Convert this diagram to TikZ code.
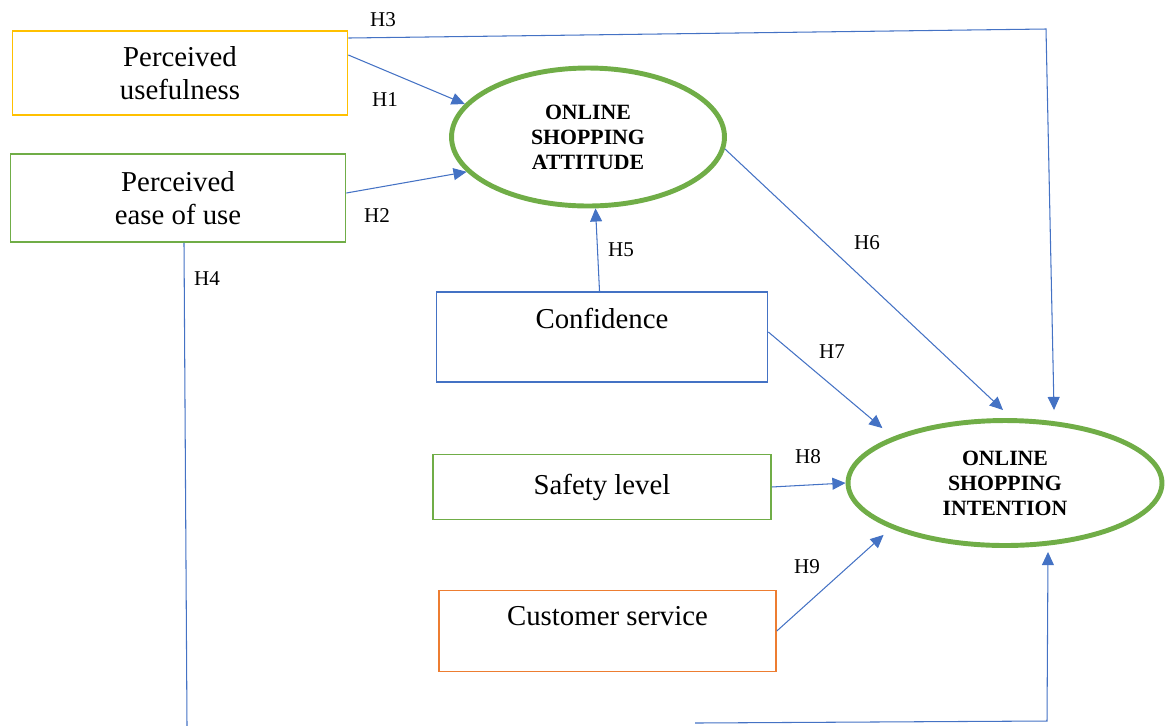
\documentclass[tikz,border=0pt]{standalone}
\usepackage{fontspec}
\setmainfont{Liberation Serif}
\usetikzlibrary{shapes.geometric,arrows.meta,positioning}
\definecolor{wordblue}{HTML}{4472C4}
\definecolor{wordgreen}{HTML}{70AD47}
\definecolor{wordyellow}{HTML}{FFC000}
\definecolor{wordorange}{HTML}{ED7D31}
\begin{document}
\begin{tikzpicture}[x=0.02cm,y=-0.02cm,
  box/.style={draw, rectangle, line width=1pt, minimum width=6.7cm, align=center, font=\fontsize{16.4}{18.7}\selectfont},
  construct/.style={draw=wordgreen, ellipse, line width=2.8pt, inner sep=0pt, align=center, font=\fontsize{12.4}{14.2}\selectfont\bfseries},
  hyp/.style={draw=wordblue, line width=0.6pt, -{Triangle[length=7.5pt,width=6.8pt]}},
  lbl/.style={font=\fontsize{12}{14}\selectfont}]
\useasboundingbox (0,0) rectangle (1165,725);

\node (pu)[box, draw=wordyellow, minimum height=1.68cm] at (180,73) {Perceived\\usefulness};
\node (pe)[box, draw=wordgreen, minimum height=1.76cm] at (178,198) {Perceived\\ease of use};
\node (att)[construct, minimum width=5.46cm, minimum height=2.76cm] at (588,137) {ONLINE\\SHOPPING\\ATTITUDE};
\node (conf)[box, draw=wordblue, minimum width=6.62cm, minimum height=1.8cm, text depth=0.76cm] at (602,337) {Confidence};
\node (safe)[box, draw=wordgreen, minimum width=6.76cm, minimum height=1.3cm, below of=conf, node distance=3cm] {Safety level};
\node (cust)[box, draw=wordorange, minimum width=6.74cm, minimum height=1.62cm, text depth=0.6cm, below of=safe, node distance=2.88cm, xshift=0.11cm] {Customer service};
\node (int)[construct, minimum width=6.28cm, minimum height=2.5cm] at (1005,483) {ONLINE\\SHOPPING\\INTENTION};

\coordinate (h3corner) at (1046,29);
\coordinate (h4foot) at (187,726);
\coordinate (h4back) at (695,723);
\coordinate (h4corner) at (1047,721);

\draw[hyp] ([yshift=0.36cm]pu.east) -- (att.165);
\draw[hyp] ([yshift=0.1cm]pe.east) -- (att.196);
\draw[hyp] ([yshift=0.7cm]pu.east) -- (h3corner) -- ([shift={(49,-8)}]int.north);
\draw[wordblue, line width=0.6pt] ([xshift=0.12cm]pe.south) -- (h4foot);
\draw[hyp] (h4back) -- (h4corner) -- ([shift={(43,4)}]int.south);
\draw[hyp] ([xshift=-0.05cm]conf.north) -- (att.-84);
\draw[hyp] (att.-5) -- ([shift={(-2,-8)}]int.north);
\draw[hyp] ([yshift=0.1cm]conf.east) -- ([shift={(-15,-7)}]int.156);
\draw[hyp] (safe.east) -- (int.west);
\draw[hyp] (cust.east) -- ([shift={(-11,5)}]int.203);

\node (lh1)[lbl] at (385,100) {H1};
\node (lh2)[lbl] at (377,216) {H2};
\node (lh3)[lbl] at (383,20) {H3};
\node (lh4)[lbl] at (207,279) {H4};
\node (lh5)[lbl] at (621,250) {H5};
\node (lh6)[lbl] at (867,243) {H6};
\node (lh7)[lbl] at (832,352) {H7};
\node (lh8)[lbl] at (808,457) {H8};
\node (lh9)[lbl] at (807,567) {H9};
\end{tikzpicture}
\end{document}
